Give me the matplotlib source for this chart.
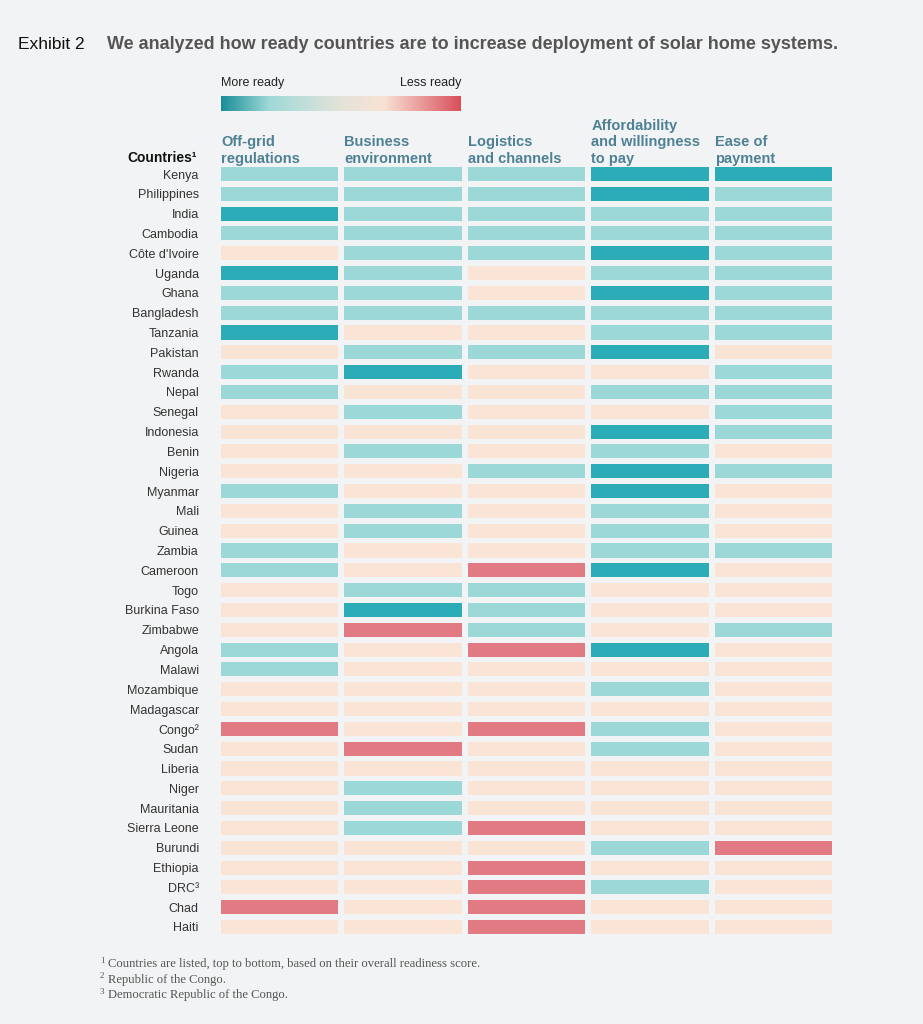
import matplotlib
matplotlib.use("Agg")
import matplotlib.pyplot as plt
import numpy as np
from matplotlib.colors import LinearSegmentedColormap

# readiness level per cell: 0 = most ready ... 3 = least ready
countries = ["Kenya", "Philippines", "India", "Cambodia", "Côte d'Ivoire", "Uganda",
             "Ghana", "Bangladesh", "Tanzania", "Pakistan", "Rwanda", "Nepal", "Senegal",
             "Indonesia", "Benin", "Nigeria", "Myanmar", "Mali", "Guinea", "Zambia",
             "Cameroon", "Togo", "Burkina Faso", "Zimbabwe", "Angola", "Malawi",
             "Mozambique", "Madagascar", "Congo²", "Sudan", "Liberia", "Niger",
             "Mauritania", "Sierra Leone", "Burundi", "Ethiopia", "DRC³", "Chad", "Haiti"]

headers = ["Off-grid\nregulations", "Business\nenvironment", "Logistics\nand channels",
           "Affordability\nand willingness\nto pay", "Ease of\npayment"]

off_grid      = [1,1,0,1,2,0,1,1,0,2,1,1,2,2,2,2,1,2,2,1,1,2,2,2,1,1,2,2,3,2,2,2,2,2,2,2,2,3,2]
business      = [1,1,1,1,1,1,1,1,2,1,0,2,1,2,1,2,2,1,1,2,2,1,0,3,2,2,2,2,2,3,2,1,1,1,2,2,2,2,2]
logistics     = [1,1,1,1,1,2,2,1,2,1,2,2,2,2,2,1,2,2,2,2,3,1,1,1,3,2,2,2,3,2,2,2,2,3,2,3,3,3,3]
affordability = [0,0,1,1,0,1,0,1,1,0,2,1,2,0,1,0,0,1,1,1,0,2,2,2,0,2,1,2,1,1,2,2,2,2,1,2,1,2,2]
ease_payment  = [0,1,1,1,1,1,1,1,1,2,1,1,1,1,2,1,2,2,2,1,2,2,2,1,2,2,2,2,2,2,2,2,2,2,3,2,2,2,2]

columns = [off_grid, business, logistics, affordability, ease_payment]
palette = ["#2cacb6", "#9bd8d7", "#f9e4d6", "#e17a82"]

W, H = 923, 1024
BG = "#f2f3f4"
plt.rcParams["font.family"] = ["Liberation Sans", "DejaVu Sans"]

fig = plt.figure(figsize=(W / 100, H / 100), dpi=100, facecolor=BG)

def px_axes(x0, y0, x1, y1):
    return fig.add_axes([x0 / W, 1 - y1 / H, (x1 - x0) / W, (y1 - y0) / H])

# heatmap
bar_w = 0.948
ax = px_axes(221, 164.1, 832, 936.9)
ax.set_facecolor(BG)
rows = np.arange(len(countries))
for j, col in enumerate(columns):
    ax.barh(rows, bar_w, left=j, height=0.71, color=[palette[v] for v in col])
ax.set_xlim(0, len(columns) - 1 + bar_w)
ax.set_ylim(len(countries) - 0.5, -0.5)
ax.set_yticks(rows)
ax.set_yticklabels(countries, fontsize=9, color="#333333")
ax.tick_params(axis="y", length=0, pad=16)
ax.set_xticks([])
for s in ax.spines.values():
    s.set_visible(False)

for j, h in enumerate(headers):
    ax.text(j, -0.4, h, ha="left", va="bottom", fontsize=10.5, fontweight="bold",
            color="#4e8196", linespacing=1.25)
ax.text(-0.04, -0.45, "Countries¹", transform=ax.get_yaxis_transform(), ha="right",
        va="bottom", fontsize=10, fontweight="bold", color="#111111")

# colour legend
cmap = LinearSegmentedColormap.from_list(
    "ready", [(0, "#1a8d98"), (0.2, "#9fd9d7"), (0.5, "#e4e3d9"),
              (0.68, "#f8e2d5"), (1, "#d9505b")])
cax = px_axes(221, 96, 461, 111)
cax.imshow(np.linspace(0, 1, 256)[None, :], aspect="auto", cmap=cmap)
cax.set_axis_off()
cax.text(0, 1.45, "More ready", transform=cax.transAxes, ha="left", va="bottom",
         fontsize=9, color="#222222")
cax.text(1, 1.45, "Less ready", transform=cax.transAxes, ha="right", va="bottom",
         fontsize=9, color="#222222")

# titles
fig.text(18 / W, 1 - 49 / H, "Exhibit 2", fontsize=12.5, fontweight="medium",
         color="#111111", va="baseline")
fig.text(107 / W, 1 - 49 / H,
         "We analyzed how ready countries are to increase deployment of solar home systems.",
         fontsize=13, fontweight="bold", color="#555555", va="baseline")

# footnotes
notes = ["Countries are listed, top to bottom, based on their overall readiness score.",
         "Republic of the Congo.",
         "Democratic Republic of the Congo."]
for k, n in enumerate(notes):
    y = 1 - (967 + 15.5 * k) / H
    fig.text(100 / W, y + 4 / H, str(k + 1), fontsize=6.5, color="#555555",
             family="Liberation Serif", va="baseline")
    fig.text(108 / W, y, n, fontsize=9.1, color="#555555",
             family="Liberation Serif", va="baseline")

fig.savefig("out.png", dpi=100, facecolor=BG)
